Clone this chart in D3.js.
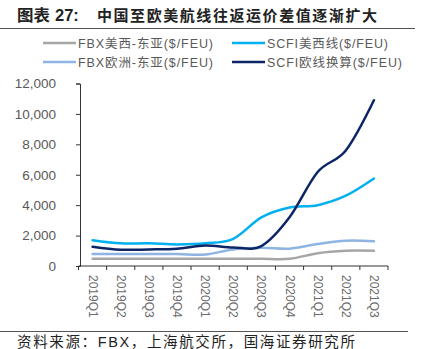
<!DOCTYPE html>
<html>
<head>
<meta charset="utf-8">
<script src="https://cdn.jsdelivr.net/npm/d3@7"></script>
<style>
  html, body { margin: 0; padding: 0; background: #fff; }
  svg { display: block; }
</style>
</head>
<body>
<svg id="chart" width="426" height="349"></svg>
<script>
// Quarterly categories
const quarters = ["2019Q1","2019Q2","2019Q3","2019Q4","2020Q1","2020Q2","2020Q3","2020Q4","2021Q1","2021Q2","2021Q3"];

// Series values ($/FEU)
const fbxUsWest   = [480, 480, 480, 480, 480, 480, 470, 470, 840, 1000, 1000];
const scfiUsWest  = [1700, 1490, 1490, 1420, 1490, 1790, 3200, 3850, 4000, 4620, 5750];
const fbxEurope   = [790, 790, 790, 790, 750, 1090, 1200, 1140, 1440, 1660, 1620];
const scfiEurope  = [1270, 1070, 1090, 1140, 1350, 1220, 1310, 3200, 6180, 7600, 10900];

// Series names
const seriesNames = ["FBX美西-东亚($/FEU)", "SCFI美西线($/FEU)", "FBX欧洲-东亚($/FEU)", "SCFI欧线换算($/FEU)"];

// Y-axis ticks
const yTicks = [0, 2000, 4000, 6000, 8000, 10000, 12000];

const colors = {
  fbxUs: "#A6A6A6",
  scfiUs: "#00B0F0",
  fbxEu: "#8DB4E2",
  scfiEu: "#0C2566"
};

const svg = d3.select("#chart");
const textGray = "#595959";
const latin = "'Liberation Sans', 'Noto Sans CJK SC', sans-serif";
const cjk = "'Noto Sans CJK SC', sans-serif";

// Title
svg.append("text")
  .attr("x", 17).attr("y", 21)
  .attr("font-size", 16).attr("font-weight", "bold").attr("fill", "#222")
  .attr("font-family", cjk)
  .attr("textLength", 33).attr("lengthAdjust", "spacingAndGlyphs")
  .text("图表");
svg.append("text")
  .attr("x", 55).attr("y", 21)
  .attr("font-size", 16.5).attr("font-weight", "bold").attr("fill", "#222")
  .attr("font-family", latin)
  .text("27:");
svg.append("text")
  .attr("x", 97).attr("y", 21)
  .attr("font-size", 15).attr("font-weight", "bold").attr("fill", "#222")
  .attr("font-family", cjk)
  .attr("textLength", 280).attr("lengthAdjust", "spacing")
  .text("中国至欧美航线往返运价差值逐渐扩大");
svg.append("line")
  .attr("x1", 0).attr("x2", 415).attr("y1", 28.5).attr("y2", 28.5)
  .attr("stroke", "#555").attr("stroke-width", 1);

// Scales
const x = d3.scaleBand().domain(quarters).range([78.5, 388]);
const y = d3.scaleLinear().domain([0, 12000]).range([266, 83.5]);

// Y axis
const yAxis = svg.append("g").attr("transform", "translate(80,0)")
  .call(d3.axisLeft(y).tickValues(yTicks).tickSize(4).tickPadding(20)
    .tickFormat(d3.format(",")));
yAxis.select(".domain").attr("stroke", "#333");
yAxis.selectAll(".tick line").attr("stroke", "#333");
yAxis.selectAll("text").attr("font-size", 13.5).attr("fill", textGray)
  .attr("font-family", latin);

// X axis with ticks at band edges
const xAxis = svg.append("g").attr("transform", "translate(0,266)");
xAxis.append("line").attr("x1", 78.5).attr("x2", 388).attr("y1", 0).attr("y2", 0)
  .attr("stroke", "#333");
const edges = quarters.map(q => x(q)).concat([x.range()[1]]);
xAxis.selectAll("line.tk").data(edges).enter().append("line")
  .attr("class", "tk")
  .attr("x1", d => d).attr("x2", d => d).attr("y1", 0).attr("y2", 4)
  .attr("stroke", "#333");
xAxis.selectAll("text").data(quarters).enter().append("text")
  .attr("transform", d => `translate(${x(d) + x.bandwidth() / 2 - 4},${9}) rotate(90)`)
  .attr("font-size", 12).attr("fill", "#6b6b6b")
  .attr("font-family", latin)
  .text(d => d);

// Lines
const line = d3.line()
  .x((d, i) => x(quarters[i]) + x.bandwidth() / 2)
  .y(d => y(d))
  .curve(d3.curveCardinal.tension(0));

const series = [
  { values: fbxUsWest, color: colors.fbxUs },
  { values: fbxEurope, color: colors.fbxEu },
  { values: scfiUsWest, color: colors.scfiUs },
  { values: scfiEurope, color: colors.scfiEu }
];
svg.append("g").selectAll("path").data(series).enter().append("path")
  .attr("d", d => line(d.values))
  .attr("fill", "none")
  .attr("stroke", d => d.color)
  .attr("stroke-width", 2.5)
  .attr("stroke-linecap", "round");

// Legend
const legendItems = [
  { name: seriesNames[0], color: colors.fbxUs, lx: 43, ly: 43, w: 135 },
  { name: seriesNames[1], color: colors.scfiUs, lx: 232, ly: 43, w: 121 },
  { name: seriesNames[2], color: colors.fbxEu, lx: 43, ly: 62, w: 135 },
  { name: seriesNames[3], color: colors.scfiEu, lx: 232, ly: 62, w: 135 }
];
const lg = svg.append("g").selectAll("g").data(legendItems).enter().append("g");
lg.append("line")
  .attr("x1", d => d.lx).attr("x2", d => d.lx + 33)
  .attr("y1", d => d.ly).attr("y2", d => d.ly)
  .attr("stroke", d => d.color).attr("stroke-width", 2.5);
lg.append("text")
  .attr("x", d => d.lx + 35).attr("y", d => d.ly + 4.5)
  .attr("font-size", 12.5).attr("fill", textGray)
  .attr("font-family", latin)
  .attr("textLength", d => d.w).attr("lengthAdjust", "spacing")
  .text(d => d.name);

// Footer
svg.append("line")
  .attr("x1", 0).attr("x2", 408).attr("y1", 331.5).attr("y2", 331.5)
  .attr("stroke", "#555").attr("stroke-width", 1);
svg.append("text")
  .attr("x", 17).attr("y", 346.5)
  .attr("font-size", 14.5).attr("fill", "#222")
  .attr("font-family", latin)
  .attr("textLength", 338).attr("lengthAdjust", "spacing")
  .text("资料来源：FBX，上海航交所，国海证券研究所");
</script>
</body>
</html>
